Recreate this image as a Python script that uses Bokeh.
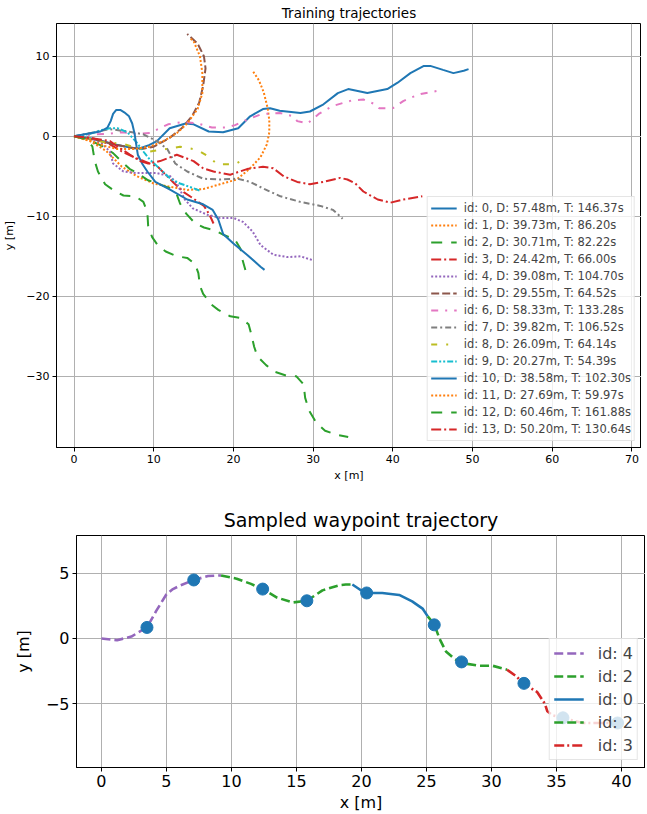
from bokeh.plotting import figure
from bokeh.layouts import column
from bokeh.models import Legend, LegendItem, FixedTicker
from bokeh.embed import file_html
from bokeh.resources import INLINE

FONT = "DejaVu Sans"

# ---------------- Top chart data (training trajectories) ----------------
t0_x = [0, 2.5, 5, 7.5, 8.3, 9.4, 10.4, 12, 14, 15, 16.9, 18.7, 20.6, 22.1, 23.7, 24.6, 25.8, 28.4, 29.6, 31.3, 33.1, 34.4, 36.8, 39.3, 40.6, 42.2, 43.9, 44.7, 46.3, 47.6, 48.9, 49.5]
t0_y = [0, -0.3, -1, -1.5, -1.5, -1.1, -0.6, 1, 1.6, 1.5, 0.6, 0.5, 1.0, 2.5, 3.4, 3.5, 3.2, 2.9, 3.1, 4.0, 5.4, 5.9, 5.4, 5.9, 6.7, 7.9, 8.8, 8.8, 8.3, 7.9, 8.2, 8.4]
t1_x = [0, 2, 4, 6, 7.9, 10, 12, 14.2, 16.2, 18.3, 20.4, 22.1, 23.4, 24.2, 24.5, 24.5, 24.3, 23.8, 23.2, 22.4]
t1_y = [0, -0.6, -1.8, -3.8, -5, -5.9, -6.3, -6.7, -6.6, -6, -5.4, -4, -2.6, -1.0, 0.5, 2, 3.5, 5.5, 7.0, 8.2]
t2_x = [0, 2, 3.5, 4.9, 6, 7, 7.9, 9.3, 10.5, 12, 12.9, 13.3, 14.1, 15.2, 16.3, 17.8, 18.7, 20.2, 20.9, 21.1, 21.5]
t2_y = [0, -0.5, -1.2, -2.1, -3.2, -4.1, -4.6, -5.5, -5.9, -6.5, -7.3, -8.4, -9.7, -10.9, -11.4, -11.8, -12.3, -12.9, -14.1, -15.3, -16.7]
t3_x = [0, 2.5, 4.5, 6, 7.5, 9, 10.5, 11.5, 12.5, 13.8, 15, 16.3, 17, 17.5]
t3_y = [0, -0.3, -1, -1.9, -2.6, -3.2, -3.8, -4.8, -5.8, -7, -7.8, -8.7, -9.8, -10.9]
t4_x = [0, 2, 3.5, 4.5, 4.9, 6.2, 7.9, 10.4, 12.1, 12.9, 13.9, 14.9, 16.7, 18.3, 20, 21.2, 22.4, 23.4, 25, 26.8, 28.4, 30]
t4_y = [0, -0.3, -0.9, -1.9, -3.4, -4.4, -4.6, -4.6, -5, -5.9, -7.9, -9, -9.8, -10.2, -10.2, -10.7, -11.9, -13.6, -14.8, -15.1, -15, -15.5]
t5_x = [0, 3, 5, 7, 8.5, 10, 12, 13.5, 14.8, 15.7, 16.2, 16.5, 16.3, 15.5, 14.2]
t5_y = [0, -0.5, -1, -1.4, -1.6, -1.3, -0.2, 1, 2.5, 4.2, 6.3, 8.5, 10, 11.6, 12.8]
t6_x = [0, 2, 4, 6, 8, 9.5, 11.8, 13.7, 15.5, 17.3, 19, 20.2, 22, 23.6, 25.9, 27.5, 28, 29.3, 30.7, 32.5, 34.9, 36.3, 37.8, 38.3, 40, 41.3, 42.2, 43.5, 45.7]
t6_y = [0, 0.2, 0.3, 0.5, 0.3, 0.4, 1.5, 1.8, 1.6, 1.1, 1.1, 1.4, 2.2, 2.8, 2.9, 2.5, 1.9, 1.6, 2.8, 3.8, 4.5, 4.6, 4, 3.5, 3.5, 4.4, 4.8, 5.3, 5.7]
t7_x = [0, 1.5, 3, 4.5, 6.7, 8.7, 10.4, 11.7, 12.7, 14.2, 16.2, 18.3, 20.5, 22.1, 23.7, 25.9, 28.4, 30.9, 32.5, 33.7]
t7_y = [0, 0.3, 0.6, 0.9, 0.6, 0.25, -0.6, -1.6, -3.4, -4.4, -5.3, -5.4, -5.3, -5.7, -6.5, -7.5, -8.2, -8.7, -9.2, -10.3]
t8_x = [0, 2, 4, 6, 8, 9.5, 11.5, 13.3, 15, 15.8, 16.8, 18, 19.6, 20.2, 21.2]
t8_y = [0, -0.3, -0.8, -0.9, -1.5, -1.9, -1.6, -1.3, -1.6, -1.9, -2.5, -3.5, -3.5, -3.5, -2.9]
t9_x = [0, 2, 3.5, 4.5, 5.5, 6.7, 7.8, 8.7, 9.5, 10.8, 12.1, 13.3, 15, 15.8]
t9_y = [0, 0.3, 0.8, 1, 1, 0.5, -0.7, -1.9, -2.9, -4.1, -5.3, -5.9, -6.5, -6.8]
t10_x = [0, 1.5, 3.3, 4.2, 4.6, 4.9, 5.3, 5.8, 6.3, 6.9, 7.3, 7.6, 8, 8.6, 9.2, 10.2, 12.1, 14.2, 16.2, 17.4, 18.1, 18.7, 20, 21.7, 23.4, 23.9]
t10_y = [0, 0.3, 0.6, 1.1, 1.9, 2.8, 3.3, 3.3, 3.0, 2.5, 1.6, 0.3, -2.3, -3.5, -4.4, -5.7, -6.7, -7.9, -8.5, -9.2, -10.4, -12.2, -13.4, -14.8, -16.3, -16.7]
t11_x = [0, 2, 3.8, 5.5, 7.5, 9.5, 11.2, 12.9, 14.2, 15.5, 16.1, 16.1, 15.8, 15, 14.5]
t11_y = [0, -0.5, -1.2, -1.6, -1.6, -1.3, -0.6, 0.4, 1.6, 3.4, 5.4, 7.9, 10, 11.9, 12.3]
t12_x = [0, 1.4, 2.3, 2.6, 3, 3.9, 4.9, 6.2, 7.7, 8.7, 9.2, 9.3, 9.8, 10.5, 11.5, 12.9, 14.2, 15.2, 15.6, 15.8, 16.2, 17.2, 18.1, 19.6, 20.9, 21.9, 22.2, 22.6, 23, 24.1, 25.1, 26.6, 27.9, 28.8, 29, 29.5, 30.4, 31.5, 32.9, 34.4]
t12_y = [0, -0.25, -1.25, -3.1, -4.4, -6, -6.7, -7.4, -7.5, -8.2, -9.5, -11.2, -12.6, -13.6, -14.4, -15, -15.2, -16, -17.1, -18.7, -19.7, -21, -21.7, -22.5, -22.7, -23.5, -24.6, -26.3, -27.5, -28.6, -29.4, -29.9, -30, -31, -32.7, -34.3, -35.8, -36.8, -37.3, -37.6]
t13_x = [0, 2, 4.5, 5.5, 7, 8.3, 9.3, 10.8, 12.4, 12.9, 15, 16.2, 17.5, 19.6, 21.7, 23.7, 25, 26.3, 28, 29.6, 31.3, 33.4, 34.3, 35.3, 36.3, 38.1, 39.7, 41.3, 43.7]
t13_y = [0, -0.2, -0.6, -1.3, -2.3, -3.1, -3.4, -3.1, -2.5, -2.3, -3.1, -4, -4.4, -4.8, -4.1, -3.8, -4, -5, -5.7, -6, -5.7, -5.2, -5.4, -5.9, -6.9, -7.9, -8.3, -7.9, -7.5]

top_labels = [
    "id: 0, D: 57.48m, T: 146.37s", "id: 1, D: 39.73m, T: 86.20s",
    "id: 2, D: 30.71m, T: 82.22s", "id: 3, D: 24.42m, T: 66.00s",
    "id: 4, D: 39.08m, T: 104.70s", "id: 5, D: 29.55m, T: 64.52s",
    "id: 6, D: 58.33m, T: 133.28s", "id: 7, D: 39.82m, T: 106.52s",
    "id: 8, D: 26.09m, T: 64.14s", "id: 9, D: 20.27m, T: 54.39s",
    "id: 10, D: 38.58m, T: 102.30s", "id: 11, D: 27.69m, T: 59.97s",
    "id: 12, D: 60.46m, T: 161.88s", "id: 13, D: 50.20m, T: 130.64s",
]
top_xs = [t0_x, t1_x, t2_x, t3_x, t4_x, t5_x, t6_x, t7_x, t8_x, t9_x, t10_x, t11_x, t12_x, t13_x]
top_ys = [t0_y, t1_y, t2_y, t3_y, t4_y, t5_y, t6_y, t7_y, t8_y, t9_y, t10_y, t11_y, t12_y, t13_y]

top_x_ticks = [0, 10, 20, 30, 40, 50, 60, 70]
top_y_ticks = [-30, -20, -10, 0, 10]
top_y_tick_labels = ["\u221230", "\u221220", "\u221210", "0", "10"]

# ---------------- Bottom chart data (sampled waypoint trajectory) ----------------
b_id4_x = [0.0, 1.2, 2.3, 3.5, 4.2, 5.0, 5.5, 6.0, 7.1, 8.2, 9.2]
b_id4_y = [0.0, -0.13, 0.15, 0.85, 2.1, 3.4, 3.8, 4.05, 4.5, 4.8, 4.85]
b_id2a_x = [9.2, 10.4, 11.5, 12.4, 13.5, 14.7, 15.8, 17.0, 18.3, 18.8, 19.3]
b_id2a_y = [4.85, 4.6, 4.2, 3.8, 3.15, 2.77, 2.9, 3.7, 4.1, 4.15, 4.15]
b_id0_x = [19.3, 19.9, 20.4, 21.6, 22.9, 23.9, 24.7, 25.1]
b_id0_y = [4.15, 3.75, 3.5, 3.5, 3.35, 2.85, 2.3, 1.7]
b_id2b_x = [25.1, 25.6, 26.0, 26.5, 27.2, 27.8, 29.1, 30.1, 31.2]
b_id2b_y = [1.7, 1.1, 0.0, -1.0, -1.6, -1.9, -2.1, -2.1, -2.4]
b_id3_x = [31.2, 31.9, 32.5, 33.5, 34.1, 34.3, 34.7, 35.5, 37.0, 38.3, 39.7]
b_id3_y = [-2.4, -2.9, -3.5, -4.1, -5.0, -5.6, -5.9, -6.1, -6.5, -6.5, -6.5]
wp_x = [3.5, 7.1, 12.4, 15.8, 20.4, 25.6, 27.7, 32.5, 35.5, 39.7]
wp_y = [0.85, 4.5, 3.8, 2.9, 3.5, 1.05, -1.8, -3.45, -6.1, -6.5]
bottom_labels = ["id: 4", "id: 2", "id: 0", "id: 2", "id: 3"]

bot_x_ticks = [0, 5, 10, 15, 20, 25, 30, 35, 40]
bot_y_ticks = [-5, 0, 5]
bot_y_tick_labels = ["\u22125", "0", "5"]

# ---------------- styles ----------------
top_colors = ["#1f77b4", "#ff7f0e", "#2ca02c", "#d62728", "#9467bd", "#8c564b", "#e377c2",
              "#7f7f7f", "#bcbd22", "#17becf", "#1f77b4", "#ff7f0e", "#2ca02c", "#d62728"]
top_dashes = ["solid", "2 2", "11 9", "10 3 2 3", "2 2", "8 3", "7 7 2 7",
              "6 3 2 3", "6 9 2 9", "6 2 2 2 2 2", "solid", "2 2", "11 9", "10 3 2 3"]
bottom_colors = ["#9467bd", "#2ca02c", "#1f77b4", "#2ca02c", "#d62728"]
bottom_dashes = ["9 4", "9 4", "solid", "9 4", "10 3 2 3"]


def style_axes(p, size, ticks_x, ticks_y, ylabels, ylab_standoff):
    p.xaxis.ticker = FixedTicker(ticks=ticks_x)
    p.yaxis.ticker = FixedTicker(ticks=ticks_y)
    p.yaxis.major_label_overrides = {t: l for t, l in zip(ticks_y, ylabels)}
    p.grid.grid_line_color = "#b0b0b0"
    p.grid.grid_line_width = 1
    p.xgrid.ticker = FixedTicker(ticks=ticks_x)
    p.ygrid.ticker = FixedTicker(ticks=ticks_y)
    for ax in p.axis:
        ax.axis_line_color = "black"
        ax.major_tick_line_color = "black"
        ax.major_tick_in = 0
        ax.major_tick_out = 4
        ax.minor_tick_line_color = None
        ax.major_label_text_font = FONT
        ax.major_label_text_font_size = size
        ax.major_label_text_color = "black"
        ax.axis_label_text_font = FONT
        ax.axis_label_text_font_size = size
        ax.axis_label_text_font_style = "normal"
        ax.axis_label_text_color = "black"
        ax.major_label_standoff = 3
        ax.axis_label_standoff = 3
    p.yaxis.axis_label_standoff = ylab_standoff
    p.outline_line_color = "black"
    p.outline_line_alpha = 1
    p.outline_line_width = 1
    p.background_fill_color = "white"
    p.border_fill_color = "white"
    if "frame_align" in p.properties():
        p.frame_align = False
    p.title.text_color = "black"
    p.title.text_font = FONT
    p.title.text_font_style = "normal"
    p.title.align = "center"


# ---------------- Top figure ----------------
p1 = figure(frame_width=585, frame_height=424, x_range=(-2.2, 71.2), y_range=(-38.9, 14.1),
            output_backend="svg", toolbar_location=None,
            min_border_left=55, min_border_right=0, min_border_top=16, min_border_bottom=42,
            title="Training trajectories", x_axis_label="x [m]", y_axis_label="y [m]")
style_axes(p1, "11px", top_x_ticks, top_y_ticks, top_y_tick_labels, 7)
p1.title.text_font_size = "13.5px"
p1.title.standoff = 5

for xs, ys, c, d, lab in zip(top_xs, top_ys, top_colors, top_dashes, top_labels):
    p1.line(xs, ys, color=c, line_width=2, line_dash=d, legend_label=lab)

p1.legend.location = "bottom_right"
p1.legend.margin = 6
p1.legend.padding = 3
p1.legend.spacing = 1
p1.legend.label_height = 16
p1.legend.glyph_height = 16
p1.legend.glyph_width = 26
p1.legend.label_standoff = 7
p1.legend.label_text_font = FONT
p1.legend.label_text_font_size = "11.5px"
p1.legend.border_line_color = "#cccccc"
p1.legend.background_fill_alpha = 0.8

# ---------------- Bottom figure ----------------
p2 = figure(frame_width=569, frame_height=232, x_range=(-1.92, 41.85), y_range=(-9.92, 7.92),
            output_backend="svg", toolbar_location=None,
            min_border_left=76, min_border_right=0, min_border_top=46, min_border_bottom=38,
            title="Sampled waypoint trajectory", x_axis_label="x [m]", y_axis_label="y [m]")
style_axes(p2, "16px", bot_x_ticks, bot_y_ticks, bot_y_tick_labels, 10)
p2.title.text_font_size = "19px"
p2.title.standoff = 9

seg_xs = [b_id4_x, b_id2a_x, b_id0_x, b_id2b_x, b_id3_x]
seg_ys = [b_id4_y, b_id2a_y, b_id0_y, b_id2b_y, b_id3_y]
items = []
for xs, ys, c, d, lab in zip(seg_xs, seg_ys, bottom_colors, bottom_dashes, bottom_labels):
    r = p2.line(xs, ys, color=c, line_width=2.6, line_dash=d)
    items.append(LegendItem(label=lab, renderers=[r]))
p2.scatter(wp_x, wp_y, size=12, color="#1f77b4")

leg2 = Legend(items=items, location="bottom_right", margin=7, padding=4, spacing=3,
              label_height=20, glyph_height=20, glyph_width=30, label_standoff=14,
              label_text_font=FONT, label_text_font_size="16px",
              border_line_color="#cccccc", background_fill_alpha=0.8)
p2.add_layout(leg2)

layout = column(p1, p2, spacing=0)
open("out.html", "w").write(file_html(layout, INLINE))
